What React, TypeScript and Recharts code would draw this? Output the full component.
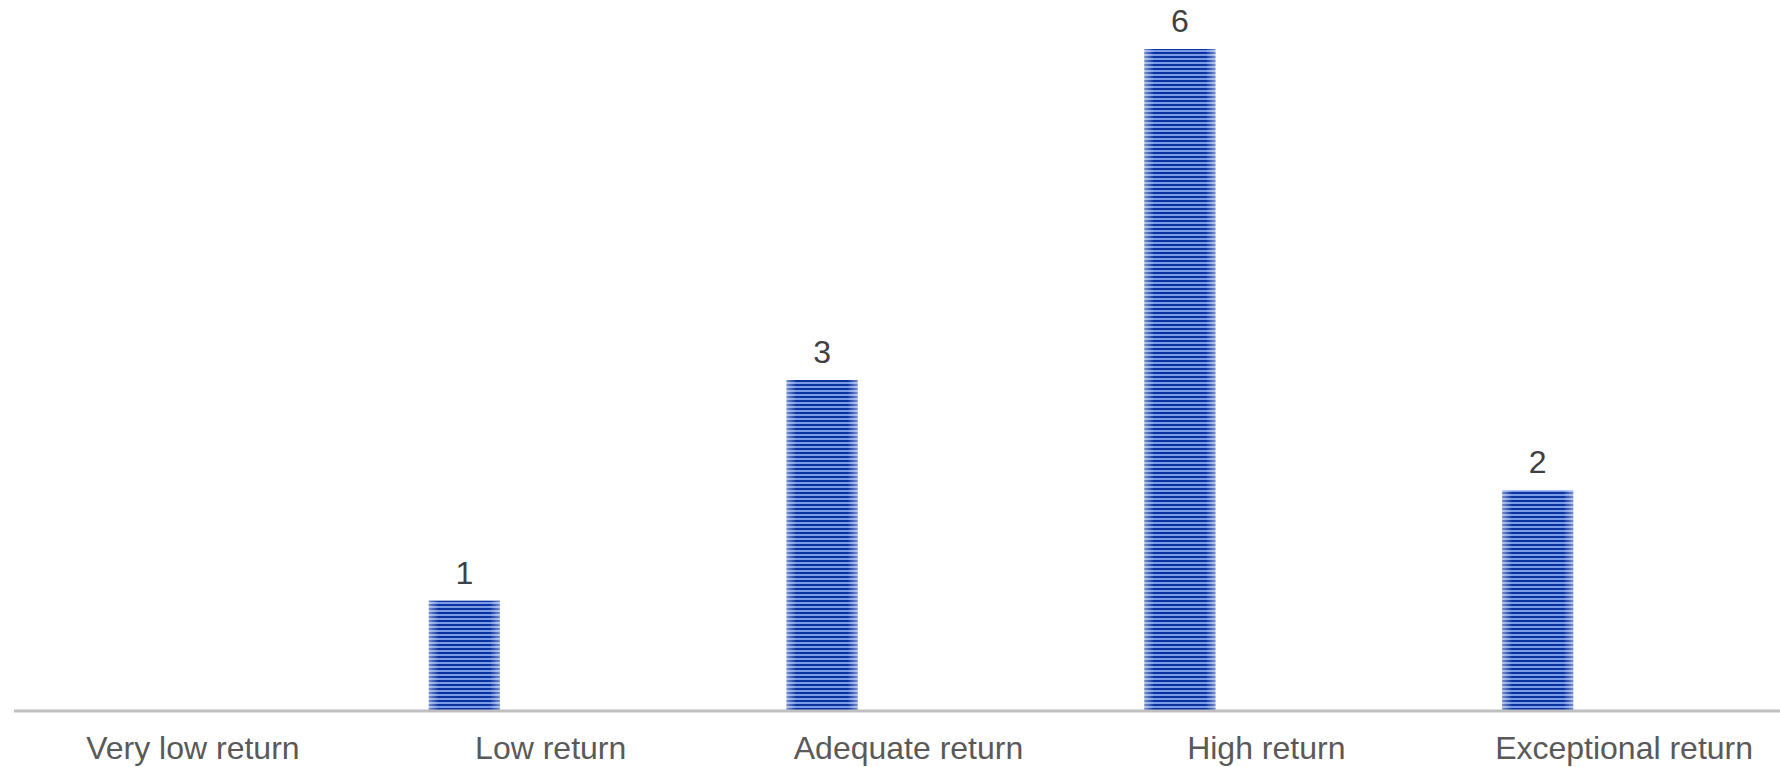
import { BarChart, Bar, XAxis, YAxis, LabelList } from 'recharts';

const categories = ['Very low return', 'Low return', 'Adequate return', 'High return', 'Exceptional return'];
const counts = [0, 1, 3, 6, 2];
// second (empty) series keeps the bars sitting left of the category centre, as in the original
const spare = [0, 0, 0, 0, 0];

const data = categories.map((name, i) => ({
  name,
  count: counts[i] === 0 ? null : counts[i],
  spare: spare[i],
}));

const FONT = '"Liberation Sans", Arial, sans-serif';

function StripedBar(props: any) {
  const { x, y, width, height } = props;
  if (!height || height <= 0) return null;
  return (
    <g>
      <rect x={x} y={y} width={width} height={height} fill="url(#stripes)" />
      <rect x={x} y={y} width={width} height={height} fill="url(#edgeGlow)" />
    </g>
  );
}

export default function App() {
  return (
    <div style={{ position: 'absolute', left: 0, top: 0, width: 1780, height: 767, overflow: 'hidden', background: '#fff' }}>
      <BarChart
        width={1803}
        height={767}
        data={data}
        margin={{ top: 49, right: 0, bottom: 0, left: 14 }}
        barSize={71}
        barGap={101}
      >
        <defs>
          <pattern id="stripes" patternUnits="userSpaceOnUse" width="8" height="4">
            <rect x="0" y="0" width="8" height="4" fill="#7d9ce6" />
            <rect x="0" y="0" width="8" height="2" fill="#0a32a0" />
          </pattern>
          <linearGradient id="edgeGlow" x1="0" y1="0" x2="1" y2="0">
            <stop offset="0%" stopColor="#ffffff" stopOpacity={0.45} />
            <stop offset="14%" stopColor="#ffffff" stopOpacity={0} />
            <stop offset="86%" stopColor="#ffffff" stopOpacity={0} />
            <stop offset="100%" stopColor="#ffffff" stopOpacity={0.45} />
          </linearGradient>
        </defs>
        <XAxis
          dataKey="name"
          height={56}
          axisLine={{ stroke: '#bfbfbf', strokeWidth: 3 }}
          tickLine={false}
          tickMargin={19}
          interval={0}
          tick={{ fill: '#595959', fontSize: 32, fontFamily: FONT }}
        />
        <YAxis hide domain={[0, 6]} />
        <Bar dataKey="count" shape={<StripedBar />} isAnimationActive={false}>
          <LabelList
            dataKey="count"
            position="top"
            offset={17}
            fill="#404040"
            fontSize={32}
            fontFamily={FONT}
          />
        </Bar>
        <Bar dataKey="spare" fill="transparent" isAnimationActive={false} />
      </BarChart>
    </div>
  );
}
